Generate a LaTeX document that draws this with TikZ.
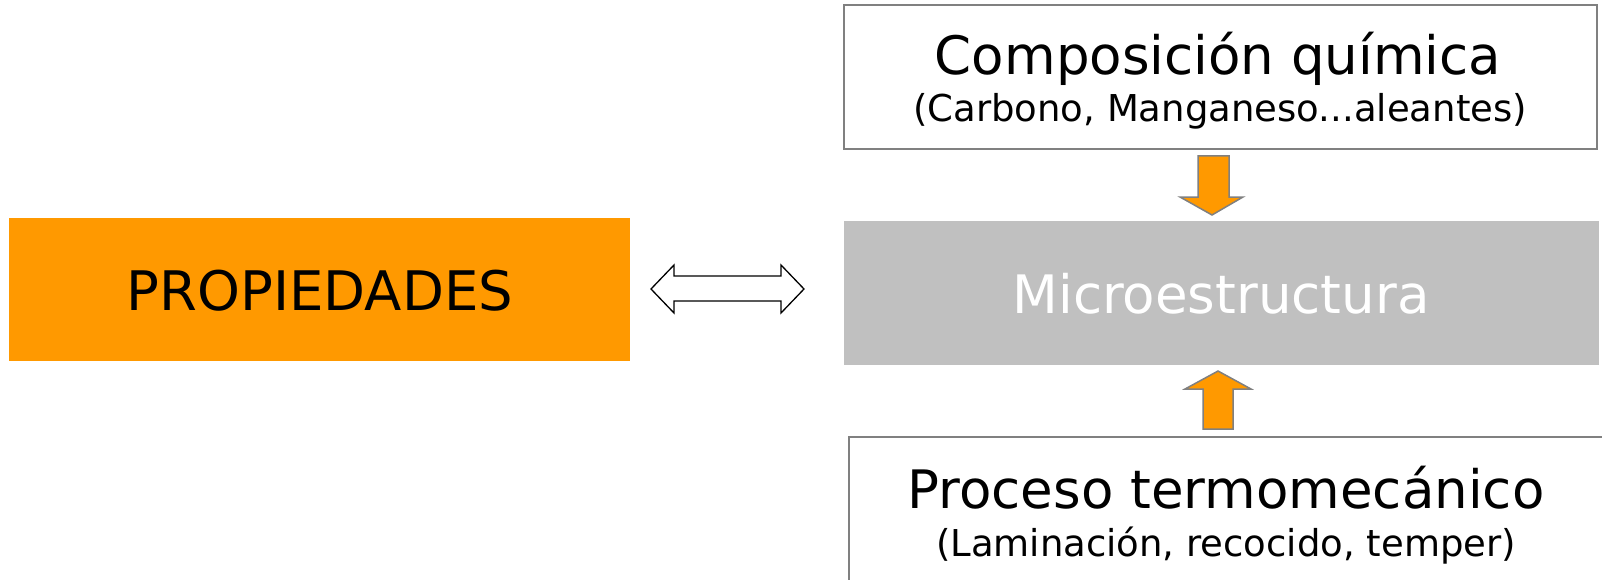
\documentclass[tikz,border=0pt]{standalone}
\usepackage{fontspec}
\setmainfont{DejaVu Sans}
\definecolor{naranja}{RGB}{255,153,0}
\definecolor{grisfondo}{RGB}{192,192,192}
\definecolor{grisborde}{RGB}{128,128,128}

\begin{document}
\begin{tikzpicture}[x=1pt,y=-1pt,
  caja/.style={draw=grisborde, line width=2pt, fill=white, rectangle, inner sep=0, outer sep=0, anchor=north west},
  bloque/.style={rectangle, inner sep=0, outer sep=0, anchor=north west},
  titulo/.style={font=\fontsize{53}{60}\selectfont, anchor=base, inner sep=0},
  subtitulo/.style={font=\fontsize{37}{42}\selectfont, anchor=base, inner sep=0},
  flecha/.style={draw=grisborde, line width=1.5pt, fill=naranja, line join=miter},
  doble/.style={draw=black, line width=1.3pt, fill=white, line join=miter}]
\useasboundingbox (0,0) rectangle (1602,580);
\clip (0,0) rectangle (1602,580);

% boxes
\node[bloque, fill=naranja, minimum width=621pt, minimum height=143pt] (prop) at (9,218) {};
\node[bloque, fill=grisfondo, minimum width=755pt, minimum height=144pt] (micro) at (844,221) {};
\node[caja, minimum width=753pt, minimum height=144pt] (comp) at (844,5) {};
\node[caja, minimum width=760pt, minimum height=153pt] (proc) at (849,437) {};

% texts
\node[titulo, font=\fontsize{54.5}{60}\selectfont] (tprop) at (320,310) {PROPIEDADES};
\node[titulo, text=white] (tmicro) at (1221,313) {Microestructura};
\node[titulo] (tcomp) at (1218,75) {Composición química};
\node[subtitulo] (scomp) at (1220,122) {(Carbono, Manganeso...aleantes)};
\node[titulo] (tproc) at (1226,508) {Proceso termomecánico};
\node[subtitulo] (sproc) at (1226,556) {(Laminación, recocido, temper)};

% two-headed arrow between properties and microstructure
\draw[doble] (651,289) -- (674,265) -- (674,276) -- (781,276) -- (781,265)
  -- (804,289) -- (781,313) -- (781,301) -- (674,301) -- (674,313) -- cycle;

% block arrows feeding the microstructure
\draw[flecha] (1198,156) -- (1229,156) -- (1229,197) -- (1243,197) -- (1212,215)
  -- (1180,197) -- (1198,197) -- cycle;
\draw[flecha] (1218,371) -- (1251,389) -- (1233,389) -- (1233,429) -- (1203,429)
  -- (1203,389) -- (1185,389) -- cycle;
\end{tikzpicture}
\end{document}
